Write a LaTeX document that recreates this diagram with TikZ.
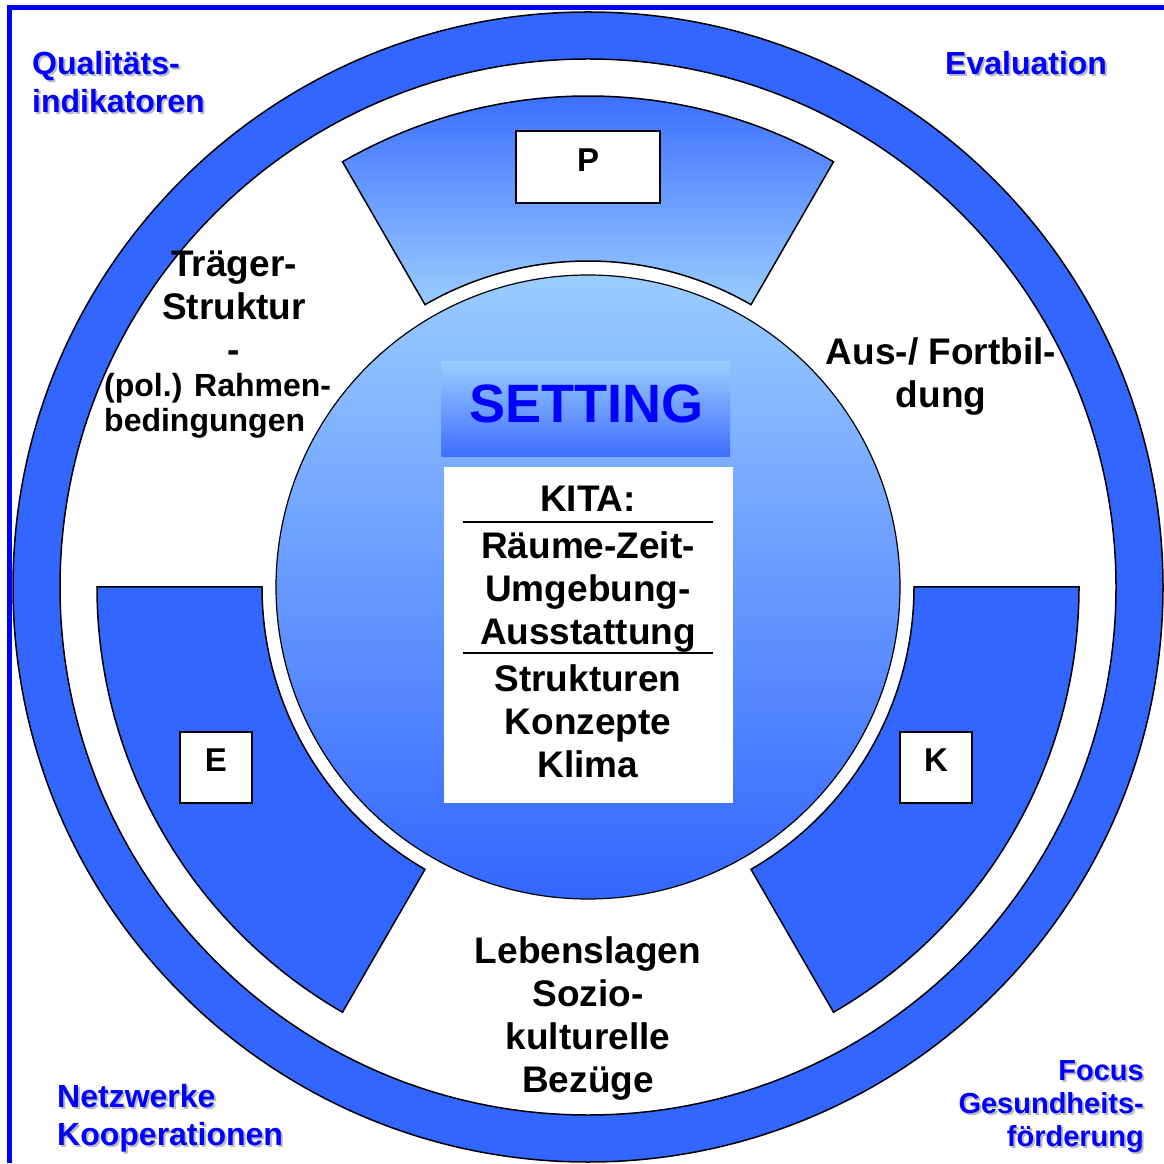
\documentclass[tikz,border=0pt]{standalone}
\usepackage{fontspec}
\setmainfont{Liberation Sans}
\definecolor{ringblue}{RGB}{51,102,255}
\definecolor{paleblue}{RGB}{153,204,255}
\definecolor{labelblue}{RGB}{0,0,255}
\definecolor{shadegray}{RGB}{185,185,195}
\tikzset{
  rim/.style={draw=black,line width=1.5},
  bigtext/.style={font=\bfseries\fontsize{37}{43}\selectfont,align=center,inner sep=0pt},
  smalltext/.style={font=\bfseries\fontsize{32}{35}\selectfont,align=left,inner sep=0pt},
  cornertext/.style={font=\bfseries\fontsize{32}{38}\selectfont,text=labelblue,inner sep=0pt},
  cornershade/.style={cornertext,text=shadegray,xshift=2,yshift=-2},
  letterbox/.style={draw=black,fill=white,line width=1.8,font=\bfseries\fontsize{33}{34}\selectfont,inner sep=0pt}
}
\begin{document}
\begin{tikzpicture}[x=1pt,y=1pt]
\useasboundingbox (0,0) rectangle (1164,1163);
\draw[labelblue,line width=5] (9.5,0) -- (9.5,1155) -- (1164,1155);
% ring, segments and centre disc
\begin{scope}[shift={(588,576)}]
\fill[ringblue,even odd rule] (0,0) circle (575) (0,0) circle (528);
\draw[rim] (0,0) circle (575);
\draw[rim] (0,0) circle (528);
\shade[rim,top color=ringblue,bottom color=paleblue]
  (60:491) arc (60:120:491) -- (120:326) arc (120:60:326) -- cycle;
\filldraw[rim,fill=ringblue]
  (180:491) arc (180:240:491) -- (240:326) arc (240:180:326) -- cycle;
\filldraw[rim,fill=ringblue]
  (300:491) arc (300:360:491) -- (0:326) arc (360:300:326) -- cycle;
\shade[rim,line width=1.2,top color=paleblue,bottom color=ringblue] (0,0) circle (312);
\end{scope}
% setting box
\shade[top color=paleblue,bottom color=ringblue!95!white] (441,706) rectangle (730,801);
\node[font=\bfseries\fontsize{54}{56}\selectfont,text=labelblue,inner sep=0pt] (setting) at (586,759) {SETTING};
\fill[white] (444,360) rectangle (733,696);
\draw[line width=1.5] (463,641) -- (713,641);
\draw[line width=1.5] (463,510) -- (713,510);
\node[bigtext,anchor=base] (kita) at (588,651) {KITA:};
\node[bigtext,anchor=base] (raeume) at (588,518) {Räume-Zeit-\\Umgebung-\\Ausstattung};
\node[bigtext,anchor=base] (strukturen) at (588,386) {Strukturen\\Konzepte\\Klima};
% letter boxes
\node[letterbox,minimum width=144,minimum height=72] (p) at (588,996) {\raisebox{14pt}{P}};
\node[letterbox,minimum width=72,minimum height=71] (e) at (216,395.5) {\raisebox{15pt}{E}};
\node[letterbox,minimum width=72,minimum height=71] (k) at (936,395.5) {\raisebox{15pt}{K}};
% labels between the segments
\node[bigtext,anchor=base] (traeger) at (234,800) {Träger-\\Struktur\\-};
\node[smalltext,anchor=base west] (rahmen) at (104,731) {(pol.) Rahmen-\\bedingungen};
\node[bigtext,anchor=base] (fortbildung) at (941,755) {Aus-/ Fortbil-\\dung};
\node[bigtext,anchor=base] (lebenslagen) at (588,71) {Lebenslagen\\Sozio-\\kulturelle\\Bezüge};
% corner labels
\node[cornershade,align=left,anchor=base west] (qualshade) at (32,1050) {Qualitäts-\\indikatoren};
\node[cornertext,align=left,anchor=base west] (qual) at (32,1050) {Qualitäts-\\indikatoren};
\node[cornershade,anchor=base west] (evalshade) at (945,1088) {Evaluation};
\node[cornertext,anchor=base west] (eval) at (945,1088) {Evaluation};
\node[cornershade,align=left,anchor=base west] (netzshade) at (57,18) {Netzwerke\\Kooperationen};
\node[cornertext,align=left,anchor=base west] (netz) at (57,18) {Netzwerke\\Kooperationen};
\node[cornershade,font=\bfseries\fontsize{29}{33}\selectfont,align=right,anchor=base east] (focusshade) at (1144,17) {Focus\\Gesundheits-\\förderung};
\node[cornertext,font=\bfseries\fontsize{29}{33}\selectfont,align=right,anchor=base east] (focus) at (1144,17) {Focus\\Gesundheits-\\förderung};
\end{tikzpicture}
\end{document}
